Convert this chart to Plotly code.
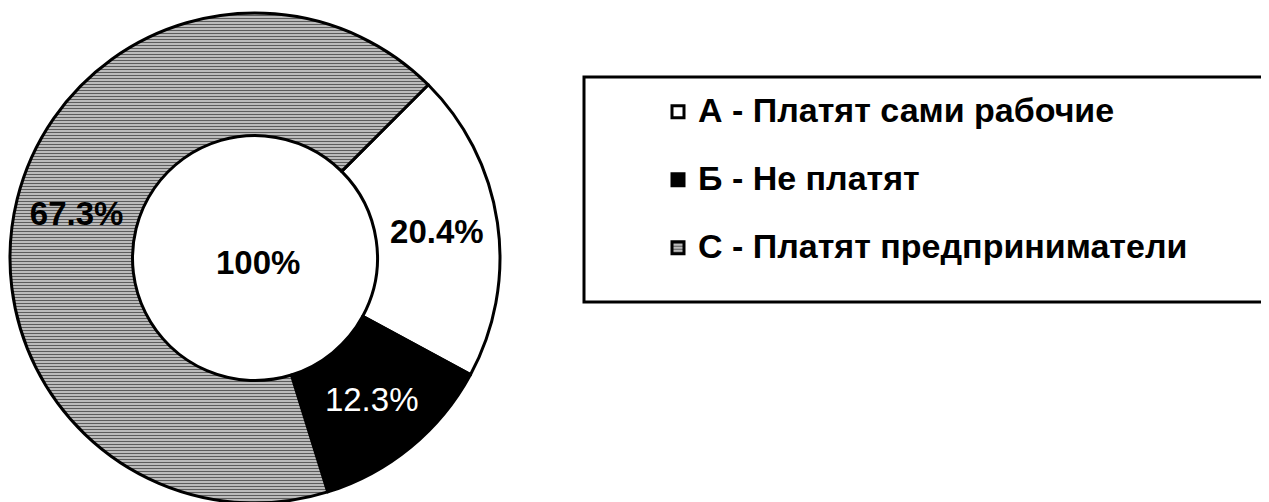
import plotly.graph_objects as go

# ---- data ----
labels = ["А - Платят сами рабочие", "Б - Не платят", "С - Платят предприниматели"]
values = [20.4, 12.3, 67.3]
slice_text = ["20.4%", "12.3%", "67.3%"]
center_text = "100%"

# ---- styles ----
fill_colors = ["#ffffff", "#000000", "#9a9a9a"]
pattern_shapes = ["", "", "-"]
pattern_fg = ["#000000", "#000000", "#5c5c5c"]
pattern_bg = ["#ffffff", "#000000", "#c6c6c6"]
text_colors = ["#000000", "#ffffff", "#000000"]
text_weights = ["bold", "normal", "bold"]
FONT = "Liberation Sans"

W, H = 1269, 502
OFF = 8  # page body margin of the written html


def px_x(x):
    return (x - OFF) / W


def px_y(y):
    return 1 - (y - OFF) / H


fig = go.Figure()
fig.add_trace(go.Pie(
    labels=["<span style='font-size:34px'>" + l + "</span><br>\u00a0" for l in labels],
    values=values,
    text=slice_text,
    textinfo="text",
    textposition="inside",
    insidetextorientation="horizontal",
    sort=False,
    direction="clockwise",
    rotation=45,
    hole=0.5,
    domain=dict(x=[px_x(10), px_x(500)], y=[px_y(503), px_y(13)]),
    marker=dict(
        colors=fill_colors,
        line=dict(color="#000000", width=3),
        pattern=dict(shape=pattern_shapes, fgcolor=pattern_fg, bgcolor=pattern_bg,
                     size=3, solidity=0.4, fillmode="replace"),
    ),
    textfont=dict(family=FONT, size=33, color=text_colors, weight=text_weights),
    hoverinfo="skip",
))

fig.add_annotation(
    text=center_text, x=px_x(258), y=px_y(262), xref="paper", yref="paper",
    xanchor="center", yanchor="middle", showarrow=False,
    font=dict(family=FONT, size=33, color="#000000", weight="bold"),
)

# legend frame (continues past the right edge of the picture)
fig.add_shape(type="rect", xref="paper", yref="paper",
              x0=px_x(584), x1=1.0, y0=px_y(302), y1=px_y(77),
              line=dict(color="#000000", width=3), fillcolor="rgba(0,0,0,0)", layer="below")

fig.update_layout(
    width=W, height=H,
    margin=dict(l=0, r=0, t=0, b=0),
    paper_bgcolor="#ffffff", plot_bgcolor="#ffffff",
    showlegend=True,
    legend=dict(
        x=px_x(658), y=px_y(89), xanchor="left", yanchor="top",
        font=dict(family=FONT, size=25, color="#000000", weight="bold"),
        bgcolor="rgba(0,0,0,0)", borderwidth=0, valign="top",
        itemclick=False, itemdoubleclick=False,
    ),
)

fig.write_html("out.html")
